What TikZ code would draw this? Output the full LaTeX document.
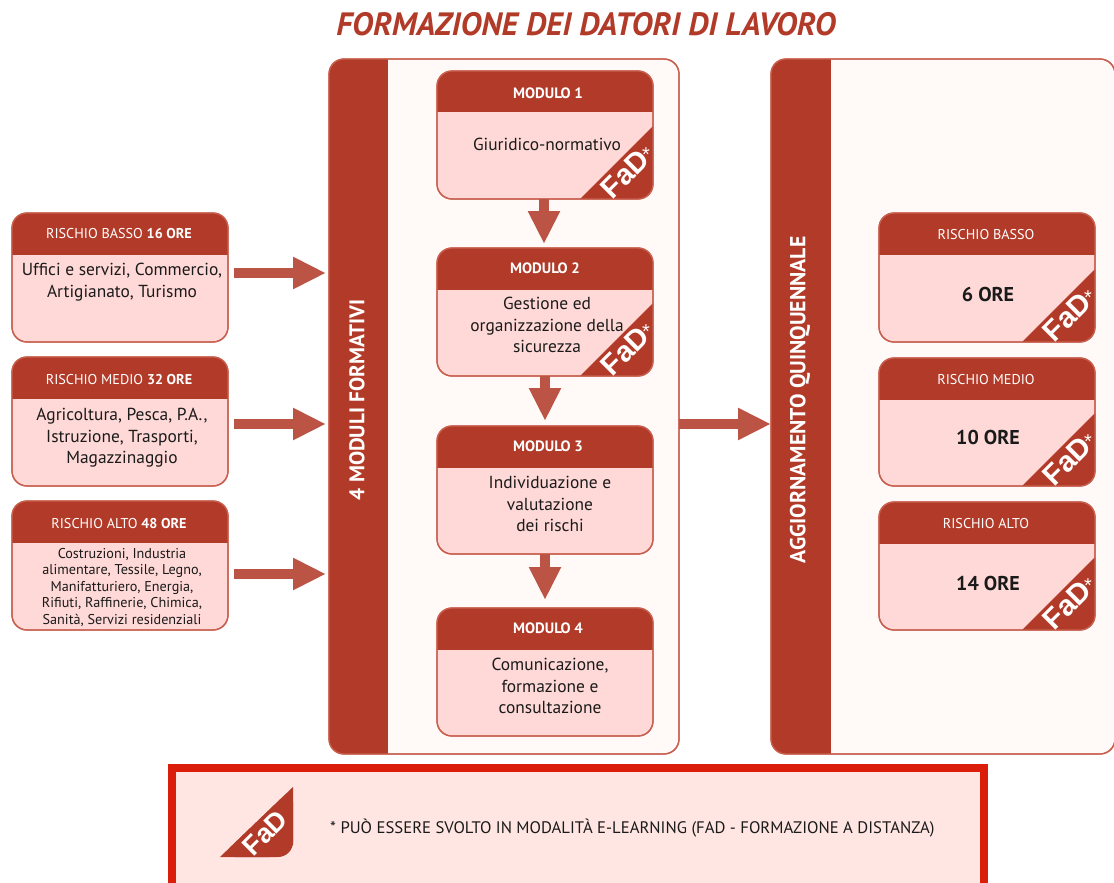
\documentclass[tikz,border=0pt]{standalone}
\usepackage{fontspec}
\setmainfont{PT Sans}
\newfontfamily\fadfont{Liberation Sans}
\usetikzlibrary{arrows.meta}
\definecolor{hdr}{HTML}{B23A28}
\definecolor{bodyc}{HTML}{FFD9D7}
\definecolor{edge}{HTML}{C9604F}
\definecolor{arrowc}{HTML}{BC5445}
\definecolor{panelc}{HTML}{FFF9F7}
\definecolor{legc}{HTML}{FFE6E3}
\definecolor{legedge}{HTML}{DA1E0A}
\definecolor{ink}{HTML}{1A1A1A}
\tikzset{
  cardbox/.style={draw=edge,line width=1.3pt,rounded corners=15pt,minimum width=#1,inner sep=0pt,outer sep=0pt,anchor=north west},
  cardbox/.default=216pt,
  headtext/.style={text=white,font=\fontsize{14.2}{16}\selectfont,align=center},
  modhead/.style={text=white,font=\fontsize{15}{16}\selectfont\bfseries},
  bodytext/.style={text=ink,font=\fontsize{17.4}{21.5}\selectfont,align=center},
  hourtext/.style={text=ink,font=\fontsize{20}{22}\selectfont\bfseries},
  smalltext/.style={text=ink,font=\fontsize{14.2}{16.5}\selectfont,align=center},
  bigarrow/.style={draw=arrowc,line width=10pt,-{Triangle[length=33pt,width=30pt,fill=arrowc]}},
  bartext/.style={text=white,rotate=90,font=\fontsize{21.2}{22}\selectfont\bfseries},
  fadtext/.style={text=white,rotate=45,font=\fadfont\fontsize{29}{30}\selectfont\bfseries,inner sep=0pt},
  fadstar/.style={text=white,font=\fadfont\fontsize{20}{20}\selectfont,inner sep=0pt},
}
% #1 name, #2 x, #3 y, #4 height, #5 header height
\newcommand{\cardshape}[5]{%
  \node[cardbox,fill=bodyc,minimum height=#4 pt] (#1) at (#2,#3) {};
  \begin{scope}
    \clip[rounded corners=15pt] (#1.north west) rectangle (#1.south east);
    \fill[hdr] (#1.north west) rectangle ([yshift=-#5 pt]#1.north east);
  \end{scope}
}
\newcommand{\cardedge}[1]{\draw[edge,line width=1.3pt,rounded corners=15pt] (#1.north west) rectangle (#1.south east);}
\newcommand{\fadcorner}[1]{%
  \begin{scope}
    \clip[rounded corners=15pt] (#1.north west) rectangle (#1.south east);
    \fill[hdr] ([xshift=-73pt]#1.south east) -- ([yshift=73pt]#1.south east) -- (#1.south east) -- cycle;
  \end{scope}
}
\newcommand{\fadlabel}[1]{%
  \node[fadtext] (#1fad) at ([shift={(-28pt,25pt)}]#1.south east) {FaD};
  \node[fadstar] (#1star) at ([shift={(-7pt,44pt)}]#1.south east) {*};
}
\begin{document}
\begin{tikzpicture}[x=1pt,y=-1pt]
\useasboundingbox (0,0) rectangle (1114,883);
\fill[white] (0,0) rectangle (1114,883);

\node[text=hdr,font=\fontsize{32.3}{34}\selectfont\bfseries\itshape] (title) at (586,24) {FORMAZIONE DEI DATORI DI LAVORO};

% panels
\node[cardbox=350pt,fill=panelc,minimum height=695pt] (p1) at (329,59) {};
\begin{scope}
  \clip[rounded corners=15pt] (p1.north west) rectangle (p1.south east);
  \fill[hdr] (p1.north west) rectangle ([xshift=59pt]p1.south west);
\end{scope}
\cardedge{p1}
\node[bartext] (p1t) at (357,400) {4 MODULI FORMATIVI};

\node[cardbox=344pt,fill=panelc,minimum height=695pt] (p2) at (771,59) {};
\begin{scope}
  \clip[rounded corners=15pt] (p2.north west) rectangle (p2.south east);
  \fill[hdr] (p2.north west) rectangle ([xshift=60pt]p2.south west);
\end{scope}
\cardedge{p2}
\node[bartext,font=\fontsize{21.7}{22}\selectfont\bfseries] (p2t) at (800,400) {AGGIORNAMENTO QUINQUENNALE};

% left cards
\cardshape{l1}{12}{213}{129}{42}\cardedge{l1}
\node[headtext] (l1h) at (119,234) {RISCHIO BASSO \textbf{16 ORE}};
\node[bodytext] (l1b) at (122,282) {Uffici e servizi, Commercio,\\Artigianato, Turismo};
\cardshape{l2}{12}{357}{129}{42}\cardedge{l2}
\node[headtext] (l2h) at (119,380) {RISCHIO MEDIO \textbf{32 ORE}};
\node[bodytext] (l2b) at (122,438) {Agricoltura, Pesca, P.A.,\\Istruzione, Trasporti,\\Magazzinaggio};
\cardshape{l3}{12}{501}{129}{42}\cardedge{l3}
\node[headtext] (l3h) at (119,524) {RISCHIO ALTO \textbf{48 ORE}};
\node[smalltext] (l3b) at (122,587) {Costruzioni, Industria\\alimentare, Tessile, Legno,\\Manifatturiero, Energia,\\Rifiuti, Raffinerie, Chimica,\\Sanità, Servizi residenziali};

% modules
\cardshape{m1}{437}{71}{128}{41}\fadcorner{m1}\cardedge{m1}\fadlabel{m1}
\node[modhead] (m1h) at (548,93) {MODULO 1};
\node[bodytext] (m1b) at (547,144) {Giuridico-normativo};
\cardshape{m2}{437}{248}{128}{42}\fadcorner{m2}\cardedge{m2}\fadlabel{m2}
\node[modhead] (m2h) at (545,268) {MODULO 2};
\node[bodytext] (m2b) at (547,325) {Gestione ed\\organizzazione della\\sicurezza};
\cardshape{m3}{437}{426}{128}{42}\cardedge{m3}
\node[modhead] (m3h) at (548,446) {MODULO 3};
\node[bodytext] (m3b) at (550,504) {Individuazione e\\valutazione\\dei rischi};
\cardshape{m4}{437}{608}{128}{42}\cardedge{m4}
\node[modhead] (m4h) at (548,628) {MODULO 4};
\node[bodytext] (m4b) at (550,686) {Comunicazione,\\formazione e\\consultazione};

% right cards
\cardshape{r1}{879}{213}{129}{42}\fadcorner{r1}\cardedge{r1}\fadlabel{r1}
\node[headtext] (r1h) at (986,235) {RISCHIO BASSO};
\node[hourtext] (r1b) at (988,294) {6 ORE};
\cardshape{r2}{879}{358}{128}{42}\fadcorner{r2}\cardedge{r2}\fadlabel{r2}
\node[headtext] (r2h) at (986,380) {RISCHIO MEDIO};
\node[hourtext] (r2b) at (988,437) {10 ORE};
\cardshape{r3}{879}{502}{128}{42}\fadcorner{r3}\cardedge{r3}\fadlabel{r3}
\node[headtext] (r3h) at (986,524) {RISCHIO ALTO};
\node[hourtext] (r3b) at (988,583) {14 ORE};

% connectors
\draw[bigarrow] ([shift={(6pt,-60pt)}]l1.north east) -- ([shift={(-3pt,-214pt)}]p1.north west);
\draw[bigarrow] ([shift={(6pt,-67pt)}]l2.north east) -- ([shift={(-3pt,-365pt)}]p1.north west);
\draw[bigarrow] ([shift={(6pt,-73pt)}]l3.north east) -- ([shift={(-3pt,-515pt)}]p1.north west);
\draw[bigarrow] ([xshift=107pt]m1.south west) -- ([xshift=107pt,yshift=4pt]m2.north west);
\draw[bigarrow] ([xshift=108pt]m2.south west) -- ([xshift=108pt,yshift=5pt]m3.north west);
\draw[bigarrow] ([xshift=108pt]m3.south west) -- ([xshift=108pt,yshift=8pt]m4.north west);
\draw[bigarrow] ([yshift=-365pt]p1.north east) -- ([yshift=-365pt]p2.north west);

% legend
\node[draw=legedge,fill=legc,line width=8pt,minimum width=812pt,minimum height=130pt,inner sep=0pt,outer sep=0pt,anchor=north west] (leg) at (172,768) {};
\coordinate (fa) at (220,857);
\coordinate (fb) at (293,787);
\coordinate (fc) at (293,857);
\fill[hdr,rounded corners=15pt] (fa) -- (fb) -- (fc) -- cycle;
\fill[hdr] (fa) -- (fb) -- (293,845) -- (270,857) -- cycle;
\node[fadtext,font=\fadfont\fontsize{27}{28}\selectfont\bfseries] (legfad) at (265,833) {FaD};
\node[text=ink,font=\fontsize{16.7}{20}\selectfont,anchor=west,inner sep=0pt] (legt) at (330,828) {* PUÒ ESSERE SVOLTO IN MODALITÀ E-LEARNING (FAD - FORMAZIONE A DISTANZA)};
\end{tikzpicture}
\end{document}
